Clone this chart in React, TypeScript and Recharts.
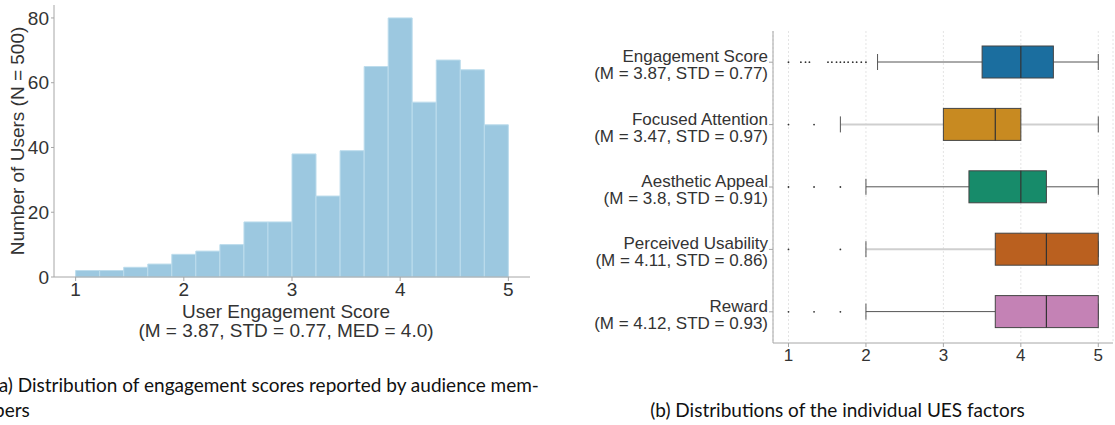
import React from 'react';
import {
  BarChart, Bar, XAxis, YAxis, CartesianGrid, ReferenceDot,
} from 'recharts';

// histogram (a): 18 equal bins between 1 and 5
const BIN_EDGES = [
  1.0, 1.222, 1.444, 1.667, 1.889, 2.111, 2.333, 2.556, 2.778, 3.0,
  3.222, 3.444, 3.667, 3.889, 4.111, 4.333, 4.556, 4.778, 5.0,
];
const BIN_COUNTS = [2, 2, 3, 4, 7, 8, 10, 17, 17, 38, 25, 39, 65, 80, 54, 67, 64, 47];
const SCORE_TICKS = [1, 2, 3, 4, 5];
const COUNT_TICKS = [0, 20, 40, 60, 80];

// box plots (b)
const FACTORS = ['Engagement Score', 'Focused Attention', 'Aesthetic Appeal', 'Perceived Usability', 'Reward'];
const FACTOR_STATS = [
  '(M = 3.87, STD = 0.77)',
  '(M = 3.47, STD = 0.97)',
  '(M = 3.8, STD = 0.91)',
  '(M = 4.11, STD = 0.86)',
  '(M = 4.12, STD = 0.93)',
];
const WHISKER_LOW = [2.15, 1.67, 2.0, 2.0, 2.0];
const Q1 = [3.5, 3.0, 3.33, 3.67, 3.67];
const MEDIAN = [4.0, 3.67, 4.0, 4.33, 4.33];
const Q3 = [4.42, 4.0, 4.33, 5.0, 5.0];
const WHISKER_HIGH = [5, 5, 5, 5, 5];
const OUTLIERS = [
  [1.0, 1.16, 1.22, 1.27, 1.51, 1.56, 1.62, 1.67, 1.72, 1.77, 1.83, 1.88, 1.94, 2.0],
  [1.0, 1.33],
  [1.0, 1.33, 1.67],
  [1.0, 1.67],
  [1.0, 1.33, 1.67],
];

const BOX_COLORS = ['#1b6e9f', '#c88a21', '#178b6a', '#ba601f', '#c482b5'];
const WHISKER_COLORS = ['#555', '#cfcfcf', '#555', '#cfcfcf', '#555'];

const FONT = '"Liberation Sans", Arial, sans-serif';
const TEXT = '#333';
const AXIS = '#a6a6a6';

const histData = BIN_COUNTS.map((count, i) => ({ mid: (BIN_EDGES[i] + BIN_EDGES[i + 1]) / 2, count }));
const boxData = FACTORS.map((name, i) => ({
  name, lo: WHISKER_LOW[i], q1: Q1[i], med: MEDIAN[i], q3: Q3[i], hi: WHISKER_HIGH[i],
}));

function BoxShape(props: any) {
  const { x, y, width, height, payload, index } = props;
  const px = (v: number) => x + ((v - payload.lo) / (payload.hi - payload.lo)) * width;
  const cy = y + height / 2;
  const wc = WHISKER_COLORS[index];
  const ww = wc === '#555' ? 1 : 2;
  return (
    <g>
      <line x1={px(payload.lo)} x2={px(payload.q1)} y1={cy} y2={cy} stroke={wc} strokeWidth={ww} />
      <line x1={px(payload.q3)} x2={px(payload.hi)} y1={cy} y2={cy} stroke={wc} strokeWidth={ww} />
      <line x1={px(payload.lo)} x2={px(payload.lo)} y1={cy - height / 4} y2={cy + height / 4} stroke="#555" />
      <line x1={px(payload.hi)} x2={px(payload.hi)} y1={cy - height / 4} y2={cy + height / 4} stroke="#555" />
      <rect x={px(payload.q1)} y={y} width={px(payload.q3) - px(payload.q1)} height={height}
        fill={BOX_COLORS[index]} stroke="#444" strokeWidth={1} />
      <line x1={px(payload.med)} x2={px(payload.med)} y1={y} y2={y + height} stroke="#333" strokeWidth={1.2} />
    </g>
  );
}

function FactorTick(props: any) {
  const { x, y, payload } = props;
  const i = FACTORS.indexOf(payload.value);
  return (
    <text x={x} y={y} textAnchor="end" fontSize={17} fill={TEXT} fontFamily={FONT}>
      <tspan x={x} dy={0}>{payload.value}</tspan>
      <tspan x={x} dy={17}>{FACTOR_STATS[i]}</tspan>
    </text>
  );
}

export default function App() {
  const leftTick = { fontSize: 19, fill: TEXT, fontFamily: FONT };
  const rightTick = { fontSize: 17, fill: TEXT, fontFamily: FONT };
  return (
    <div style={{ position: 'absolute', left: 0, top: 0, width: 1115, height: 425, overflow: 'hidden', background: '#fff' }}>
      <div style={{ position: 'absolute', left: 0, top: 0 }}>
        <BarChart width={560} height={350} data={histData} barCategoryGap={0}
          margin={{ top: 5, right: 30, left: 0, bottom: 30 }}>
          <XAxis dataKey="mid" type="number" domain={[0.8, 5.2]} ticks={SCORE_TICKS} allowDataOverflow
            height={43} stroke={AXIS} tickSize={4} tickMargin={2} tick={leftTick}
            label={{
              content: (p: any) => {
                const vb = p.viewBox;
                const cx = vb.x + vb.width / 2 - 6;
                return (
                  <text textAnchor="middle" fontSize={19} fill={TEXT} fontFamily={FONT}>
                    <tspan x={cx} y={vb.y + 41}>User Engagement Score</tspan>
                    <tspan x={cx} y={vb.y + 60}>(M = 3.87, STD = 0.77, MED = 4.0)</tspan>
                  </text>
                );
              },
            }} />
          <YAxis domain={[0, 84]} ticks={COUNT_TICKS} width={54} stroke={AXIS} tickSize={3} tickMargin={2}
            tick={leftTick}
            label={{
              content: () => (
                <text transform="translate(17,141) rotate(-90)" textAnchor="middle" dominantBaseline="central"
                  fontSize={19} fill={TEXT} fontFamily={FONT}>Number of Users (N = 500)</text>
              ),
            }} />
          <Bar dataKey="count" fill="#9cc8e0" stroke="#bcdcec" strokeWidth={1} isAnimationActive={false} />
        </BarChart>
      </div>

      <div style={{ position: 'absolute', left: 560, top: 0 }}>
        <BarChart width={555} height={380} data={boxData} layout="vertical" barSize={32}
          margin={{ top: 31, right: 2, left: 0, bottom: 7 }}>
          <CartesianGrid horizontal={false} stroke="#e4e4e4" strokeDasharray="2 2" />
          <XAxis type="number" domain={[0.8, 5.19]} ticks={SCORE_TICKS} allowDataOverflow height={30}
            stroke={AXIS} tickSize={4} tickMargin={2} tick={rightTick} />
          <YAxis type="category" dataKey="name" width={213} stroke={AXIS} tickSize={4} tickMargin={1}
            tick={<FactorTick />} interval={0} />
          <Bar dataKey={(d: any) => [d.lo, d.hi]} shape={<BoxShape />} isAnimationActive={false} />
          {OUTLIERS.map((vals, i) => vals.map((v, j) => (
            <ReferenceDot key={`${i}-${j}`} x={v} y={FACTORS[i]} r={0.9} fill="#333" stroke="none" />
          )))}
        </BarChart>
      </div>

      <div style={{
        position: 'absolute', left: -6, top: 372, width: 620, fontFamily: 'Lato, sans-serif',
        fontSize: 19, lineHeight: '25px', color: '#111', whiteSpace: 'nowrap',
      }}>
        (a) Distribution of engagement scores reported by audience mem-<br />bers
      </div>
      <div style={{
        position: 'absolute', left: 560, top: 397, width: 555, textAlign: 'center', fontFamily: 'Lato, sans-serif',
        fontSize: 19, lineHeight: '25px', color: '#111', whiteSpace: 'nowrap',
      }}>
        (b) Distributions of the individual UES factors
      </div>
    </div>
  );
}
